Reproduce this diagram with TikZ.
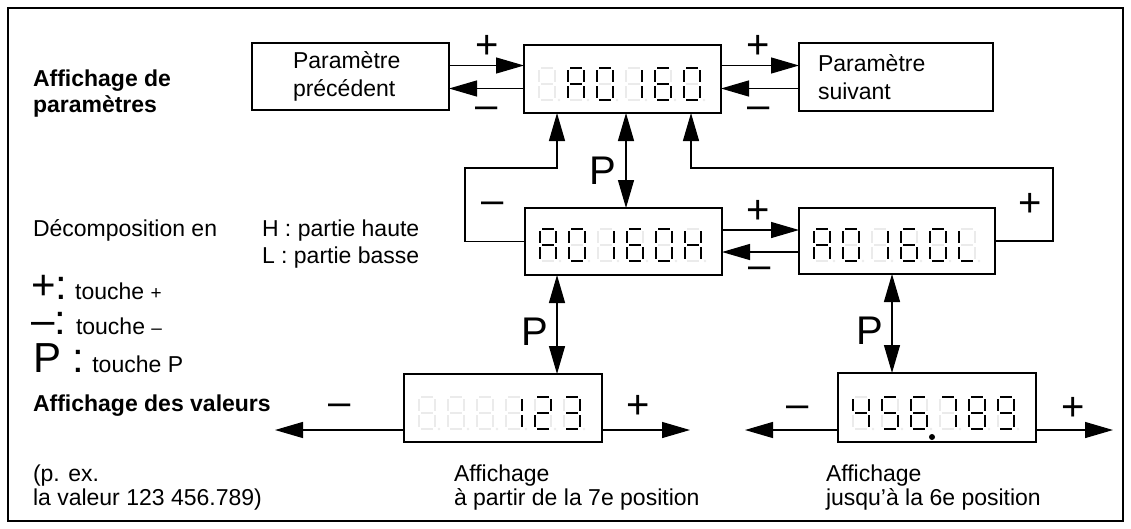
\documentclass[tikz,border=0pt]{standalone}
\usepackage{fontspec}
\setmainfont{Liberation Sans}
\usetikzlibrary{arrows.meta}

\newcommand\segdraw[2]{%
  \if a#2\draw[#1] (2,0)--(14,0);\fi
  \if b#2\draw[#1] (16,2)--(16,14);\fi
  \if c#2\draw[#1] (16,18)--(16,30);\fi
  \if d#2\draw[#1] (2,32)--(14,32);\fi
  \if e#2\draw[#1] (0,18)--(0,30);\fi
  \if f#2\draw[#1] (0,2)--(0,14);\fi
  \if g#2\draw[#1] (2,16)--(14,16);\fi}
\newcommand\digitcell[3]{%
  \begin{scope}[shift={(#1,#2)}]
    \foreach \s in {a,b,c,d,e,f,g}{\segdraw{segoff}{\s}}
    \fill[black!8] (20,32) circle (1.3);
    \foreach \s in {#3}{\segdraw{segon}{\s}}
  \end{scope}}
\newcommand\dispcells[8]{%
  \digitcell{#1}{#2}{#3}\digitcell{#1+29}{#2}{#4}\digitcell{#1+58}{#2}{#5}%
  \digitcell{#1+87}{#2}{#6}\digitcell{#1+116}{#2}{#7}\digitcell{#1+145}{#2}{#8}}
\newcommand\bigsym[1]{\smash{\fontsize{42}{42}\selectfont #1}}

\begin{document}
\begin{tikzpicture}[x=1pt,y=-1pt,
  every node/.style={font=\fontsize{23}{28}\selectfont, inner sep=0pt, outer sep=0pt},
  box/.style={draw, line width=1.4pt},
  arr/.style={line width=1.3pt, -{Triangle[length=28pt,width=16pt]}},
  dbl/.style={line width=1.3pt, {Triangle[length=28pt,width=16pt]}-{Triangle[length=28pt,width=16pt]}},
  big/.style={font=\fontsize{40}{40}\selectfont},
  title/.style={font=\fontsize{23}{26}\selectfont\bfseries, align=left},
  plain/.style={align=left, font=\fontsize{23}{24}\selectfont},
  segon/.style={line width=2.4pt, black},
  segoff/.style={line width=2.4pt, black!8}]
\useasboundingbox (0,0) rectangle (1131,528);
\draw[line width=1.2pt] (8,8) rectangle (1123,521);

% boxes
\node[box, minimum width=197pt, minimum height=67pt, text width=115pt, align=left] (prec) at (350.5,76.5) {Paramètre\\précédent};
\node[box, minimum width=197pt, minimum height=68pt] (top) at (622.5,79) {};
\node[box, minimum width=194pt, minimum height=68pt, text width=156pt, align=left] (next) at (896,77) {Paramètre\\suivant};
\node[box, minimum width=197pt, minimum height=67pt] (hdisp) at (623.5,241.5) {};
\node[box, minimum width=196pt, minimum height=66pt] (ldisp) at (897,241) {};
\node[box, minimum width=198pt, minimum height=68pt] (vleft) at (503,408) {};
\node[box, minimum width=198pt, minimum height=69pt] (vright) at (937,407.5) {};

% digits
\dispcells{539}{68}{z}{a,b,c,e,f,g}{a,b,c,d,e,f}{b,c}{a,c,d,e,f,g}{a,b,c,d,e,f}
\dispcells{540}{229}{a,b,c,e,f,g}{a,b,c,d,e,f}{b,c}{a,c,d,e,f,g}{a,b,c,d,e,f}{b,c,e,f,g}
\dispcells{814}{229}{a,b,c,e,f,g}{a,b,c,d,e,f}{b,c}{a,c,d,e,f,g}{a,b,c,d,e,f}{d,e,f}
\dispcells{419}{397}{z}{z}{z}{b,c}{a,b,g,e,d}{a,b,g,c,d}
\dispcells{853}{397}{f,g,b,c}{a,f,g,c,d}{a,f,g,e,c,d}{a,b,c}{a,b,c,d,e,f,g}{a,b,c,d,f,g}
\fill (932,437) circle (3);

% coordinates
\coordinate (yTp) at (0,65.5);
\coordinate (yTm) at (0,88.5);
\coordinate (yMp) at (0,230);
\coordinate (yMm) at (0,252);
\coordinate (yLoop) at (0,168);
\coordinate (xL1) at (557,0);
\coordinate (xP) at (626,0);
\coordinate (xR1) at (691,0);
\coordinate (xLL) at (465,0);
\coordinate (xRR) at (1053,0);
\coordinate (xPL) at (557,0);
\coordinate (xPR) at (892,0);
\coordinate (vlm) at (275,430);
\coordinate (vlp) at (690,430);
\coordinate (vrm) at (745,430);
\coordinate (vrp) at (1113,430);

% connectors
\draw[arr] (prec.east |- yTp) -- (top.west |- yTp);
\draw[arr] (top.west |- yTm) -- (prec.east |- yTm);
\draw[arr] (top.east |- yTp) -- (next.west |- yTp);
\draw[arr] (next.west |- yTm) -- (top.east |- yTm);
\draw[dbl] (top.south -| xP) -- (hdisp.north -| xP);
\draw[arr] (hdisp.west) -- (hdisp.west -| xLL) |- (yLoop -| xL1) -- (top.south -| xL1);
\draw[arr] (ldisp.east) -- (ldisp.east -| xRR) |- (yLoop -| xR1) -- (top.south -| xR1);
\draw[arr] (hdisp.east |- yMp) -- (ldisp.west |- yMp);
\draw[arr] (ldisp.west |- yMm) -- (hdisp.east |- yMm);
\draw[dbl] (hdisp.south -| xPL) -- (vleft.north -| xPL);
\draw[dbl] (ldisp.south -| xPR) -- (vright.north -| xPR);
\draw[arr] (vleft.west |- vlm) -- (vlm);
\draw[arr] (vleft.east |- vlp) -- (vlp);
\draw[arr] (vright.west |- vrm) -- (vrm);
\draw[arr] (vright.east |- vrp) -- (vrp);

% connector labels
\node[big] (l1) at (487,47) {+};
\node[big] (l2) at (487,113) {–};
\node[big] (l3) at (758,47) {+};
\node[big] (l4) at (759,113) {–};
\node[big] (l5) at (493,208) {–};
\node[big] (l6) at (1030,205) {+};
\node[big] (l7) at (758,212) {+};
\node[big] (l8) at (760,273) {–};
\node[big] (l9) at (603,171) {P};
\node[big] (l10) at (535,332) {P};
\node[big] (l11) at (870,331) {P};
\node[big] (l12) at (340,410) {–};
\node[big] (l13) at (638,407) {+};
\node[big] (l14) at (798,412) {–};
\node[big] (l15) at (1073,409) {+};

% texts
\node[title, anchor=base west] (t1) at (33,112) {Affichage de\\paramètres};
\node[anchor=base west] (t2) at (33,236) {Décomposition en};
\node[plain, anchor=base west, font=\fontsize{23}{27}\selectfont] (t3) at (262,263) {H : partie haute\\L : partie basse};
\node[anchor=base west] (k1) at (31,299) {\bigsym{+:}\hspace{8pt}touche {\fontsize{19}{19}\selectfont +}};
\node[anchor=base west] (k2) at (31,334) {\bigsym{–:}\hspace{10pt}touche {\fontsize{19}{19}\selectfont –}};
\node[anchor=base west] (k3) at (33,372) {\bigsym{P :}\hspace{8pt}touche P};
\node[title, anchor=base west] (t4) at (33,411) {Affichage des valeurs};
\node[plain, anchor=base west] (t5) at (33,505) {(p. ex.\\la valeur 123 456.789)};
\node[plain, anchor=base west] (t6) at (454,505) {Affichage\\à partir de la 7e position};
\node[plain, anchor=base west] (t7) at (826,505) {Affichage\\jusqu’à la 6e position};
\end{tikzpicture}
\end{document}
